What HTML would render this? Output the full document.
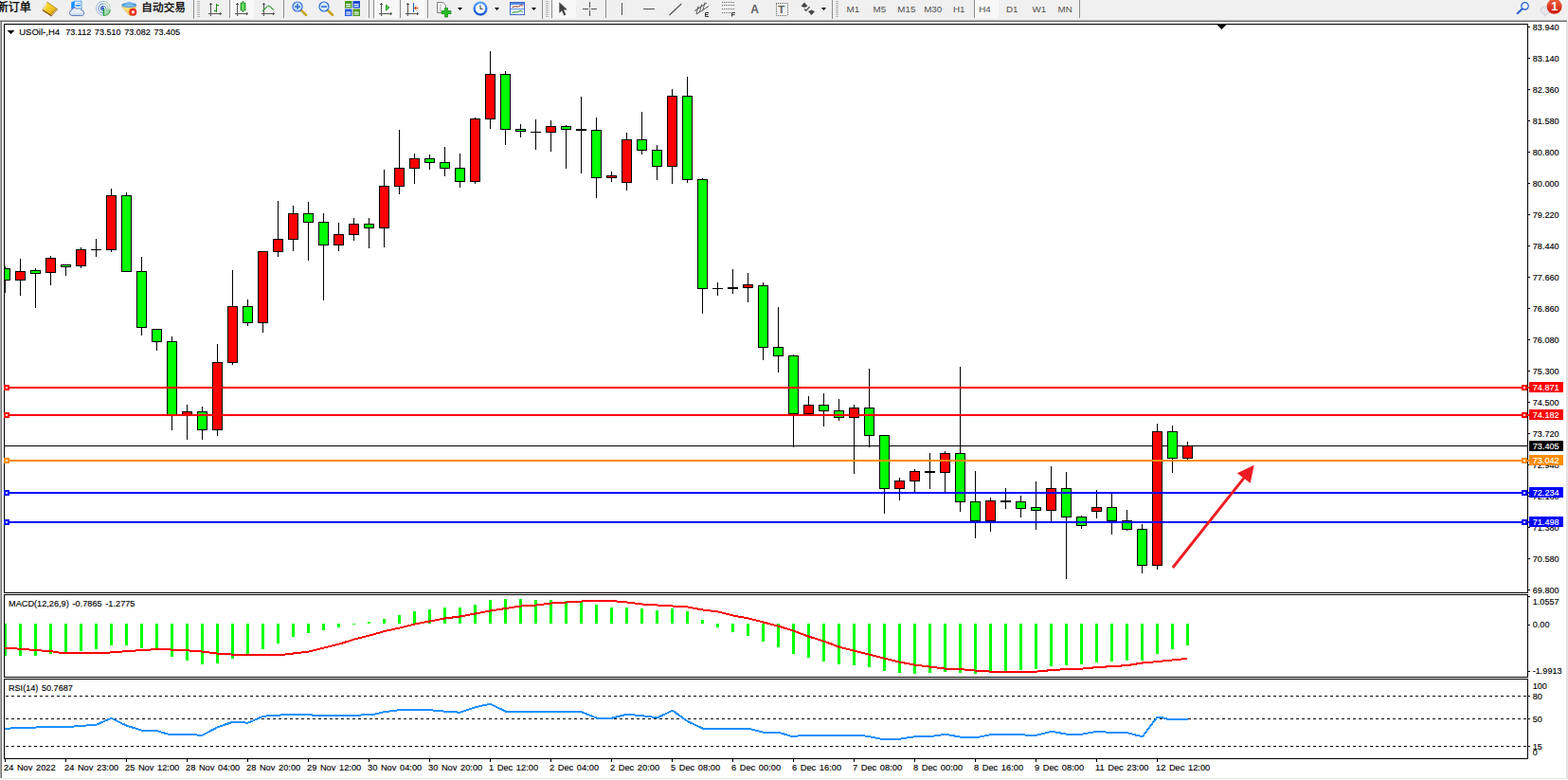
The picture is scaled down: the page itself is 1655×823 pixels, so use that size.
<!DOCTYPE html>
<html><head><meta charset="utf-8"><title>USOil H4</title>
<style>
html,body{margin:0;padding:0;background:#fff;}
body{width:1655px;height:823px;overflow:hidden;position:relative;font-family:"Liberation Sans",sans-serif;}
svg{position:absolute;left:0;top:0;}
svg.crisp{shape-rendering:crispEdges;}
.tb{font-family:"Liberation Sans",sans-serif;}
.ax{font-family:"Liberation Sans",sans-serif;font-size:9.7px;}
#tb{position:absolute;left:0;top:0;width:1655px;height:21px;background:#f0f0f0;}
#tbl1{position:absolute;left:0;top:21px;width:1654px;height:1px;background:#b4b4b4;}
#tbl2{position:absolute;left:0;top:22px;width:1654px;height:1px;background:#6a6a6a;}
</style></head><body>
<svg class="crisp" width="1655" height="823" viewBox="0 0 1655 823">
<rect x="0" y="21" width="1" height="800" fill="#a9a9a9"/>
<rect x="1" y="21" width="1" height="800" fill="#747474"/>
<rect x="1653" y="23" width="2" height="799" fill="#e3e3e3"/>
<rect x="2" y="821" width="1653" height="1" fill="#e6e6e6"/>
<rect x="4" y="25" width="1609" height="1" fill="#000"/>
<rect x="4" y="625" width="1609" height="1" fill="#000"/>
<rect x="4" y="25" width="1" height="601" fill="#000"/>
<rect x="1612" y="25" width="1" height="601" fill="#000"/>
<rect x="4" y="627" width="1609" height="1" fill="#000"/>
<rect x="4" y="714" width="1609" height="1" fill="#000"/>
<rect x="4" y="627" width="1" height="88" fill="#000"/>
<rect x="1612" y="627" width="1" height="88" fill="#000"/>
<rect x="4" y="716" width="1609" height="1" fill="#000"/>
<rect x="4" y="800" width="1609" height="1" fill="#000"/>
<rect x="4" y="716" width="1" height="85" fill="#000"/>
<rect x="1612" y="716" width="1" height="85" fill="#000"/>
<rect x="5" y="470" width="1607" height="1" fill="#000"/>
<rect x="5" y="281" width="1" height="28" fill="#000"/>
<rect x="5" y="283" width="6" height="13" fill="#000"/>
<rect x="5" y="284" width="5" height="11" fill="#00ff00"/>
<rect x="21" y="273" width="1" height="39" fill="#000"/>
<rect x="16" y="286" width="11" height="10" fill="#000"/>
<rect x="17" y="287" width="9" height="8" fill="#ff0000"/>
<rect x="37" y="283" width="1" height="42" fill="#000"/>
<rect x="32" y="285" width="11" height="4" fill="#000"/>
<rect x="33" y="286" width="9" height="2" fill="#00ff00"/>
<rect x="53" y="270" width="1" height="31" fill="#000"/>
<rect x="48" y="272" width="11" height="16" fill="#000"/>
<rect x="49" y="273" width="9" height="14" fill="#ff0000"/>
<rect x="69" y="279" width="1" height="12" fill="#000"/>
<rect x="64" y="279" width="11" height="3" fill="#000"/>
<rect x="65" y="280" width="9" height="1" fill="#00ff00"/>
<rect x="85" y="261" width="1" height="22" fill="#000"/>
<rect x="80" y="263" width="11" height="18" fill="#000"/>
<rect x="81" y="264" width="9" height="16" fill="#ff0000"/>
<rect x="101" y="252" width="1" height="19" fill="#000"/>
<rect x="96" y="263" width="11" height="1" fill="#000"/>
<rect x="117" y="199" width="1" height="67" fill="#000"/>
<rect x="112" y="206" width="11" height="58" fill="#000"/>
<rect x="113" y="207" width="9" height="56" fill="#ff0000"/>
<rect x="133" y="203" width="1" height="84" fill="#000"/>
<rect x="128" y="206" width="11" height="81" fill="#000"/>
<rect x="129" y="207" width="9" height="79" fill="#00ff00"/>
<rect x="149" y="271" width="1" height="83" fill="#000"/>
<rect x="144" y="286" width="11" height="60" fill="#000"/>
<rect x="145" y="287" width="9" height="58" fill="#00ff00"/>
<rect x="165" y="347" width="1" height="23" fill="#000"/>
<rect x="160" y="347" width="11" height="14" fill="#000"/>
<rect x="161" y="348" width="9" height="12" fill="#00ff00"/>
<rect x="181" y="355" width="1" height="99" fill="#000"/>
<rect x="176" y="360" width="11" height="79" fill="#000"/>
<rect x="177" y="361" width="9" height="77" fill="#00ff00"/>
<rect x="197" y="427" width="1" height="37" fill="#000"/>
<rect x="192" y="434" width="11" height="5" fill="#000"/>
<rect x="193" y="435" width="9" height="3" fill="#ff0000"/>
<rect x="213" y="429" width="1" height="35" fill="#000"/>
<rect x="208" y="434" width="11" height="20" fill="#000"/>
<rect x="209" y="435" width="9" height="18" fill="#00ff00"/>
<rect x="229" y="363" width="1" height="97" fill="#000"/>
<rect x="224" y="382" width="11" height="72" fill="#000"/>
<rect x="225" y="383" width="9" height="70" fill="#ff0000"/>
<rect x="245" y="285" width="1" height="100" fill="#000"/>
<rect x="240" y="323" width="11" height="60" fill="#000"/>
<rect x="241" y="324" width="9" height="58" fill="#ff0000"/>
<rect x="261" y="316" width="1" height="28" fill="#000"/>
<rect x="256" y="323" width="11" height="18" fill="#000"/>
<rect x="257" y="324" width="9" height="16" fill="#00ff00"/>
<rect x="277" y="265" width="1" height="86" fill="#000"/>
<rect x="272" y="265" width="11" height="76" fill="#000"/>
<rect x="273" y="266" width="9" height="74" fill="#ff0000"/>
<rect x="293" y="212" width="1" height="59" fill="#000"/>
<rect x="288" y="252" width="11" height="14" fill="#000"/>
<rect x="289" y="253" width="9" height="12" fill="#ff0000"/>
<rect x="309" y="217" width="1" height="48" fill="#000"/>
<rect x="304" y="225" width="11" height="28" fill="#000"/>
<rect x="305" y="226" width="9" height="26" fill="#ff0000"/>
<rect x="325" y="213" width="1" height="62" fill="#000"/>
<rect x="320" y="225" width="11" height="10" fill="#000"/>
<rect x="321" y="226" width="9" height="8" fill="#00ff00"/>
<rect x="341" y="225" width="1" height="92" fill="#000"/>
<rect x="336" y="234" width="11" height="25" fill="#000"/>
<rect x="337" y="235" width="9" height="23" fill="#00ff00"/>
<rect x="357" y="235" width="1" height="30" fill="#000"/>
<rect x="352" y="247" width="11" height="12" fill="#000"/>
<rect x="353" y="248" width="9" height="10" fill="#ff0000"/>
<rect x="373" y="230" width="1" height="24" fill="#000"/>
<rect x="368" y="236" width="11" height="12" fill="#000"/>
<rect x="369" y="237" width="9" height="10" fill="#ff0000"/>
<rect x="389" y="230" width="1" height="32" fill="#000"/>
<rect x="384" y="236" width="11" height="5" fill="#000"/>
<rect x="385" y="237" width="9" height="3" fill="#00ff00"/>
<rect x="405" y="179" width="1" height="82" fill="#000"/>
<rect x="400" y="196" width="11" height="45" fill="#000"/>
<rect x="401" y="197" width="9" height="43" fill="#ff0000"/>
<rect x="421" y="137" width="1" height="68" fill="#000"/>
<rect x="416" y="177" width="11" height="20" fill="#000"/>
<rect x="417" y="178" width="9" height="18" fill="#ff0000"/>
<rect x="437" y="162" width="1" height="32" fill="#000"/>
<rect x="432" y="167" width="11" height="11" fill="#000"/>
<rect x="433" y="168" width="9" height="9" fill="#ff0000"/>
<rect x="453" y="163" width="1" height="16" fill="#000"/>
<rect x="448" y="167" width="11" height="5" fill="#000"/>
<rect x="449" y="168" width="9" height="3" fill="#00ff00"/>
<rect x="469" y="155" width="1" height="31" fill="#000"/>
<rect x="464" y="171" width="11" height="7" fill="#000"/>
<rect x="465" y="172" width="9" height="5" fill="#00ff00"/>
<rect x="485" y="162" width="1" height="36" fill="#000"/>
<rect x="480" y="177" width="11" height="15" fill="#000"/>
<rect x="481" y="178" width="9" height="13" fill="#00ff00"/>
<rect x="501" y="124" width="1" height="70" fill="#000"/>
<rect x="496" y="125" width="11" height="67" fill="#000"/>
<rect x="497" y="126" width="9" height="65" fill="#ff0000"/>
<rect x="517" y="54" width="1" height="82" fill="#000"/>
<rect x="512" y="78" width="11" height="48" fill="#000"/>
<rect x="513" y="79" width="9" height="46" fill="#ff0000"/>
<rect x="533" y="75" width="1" height="78" fill="#000"/>
<rect x="528" y="78" width="11" height="59" fill="#000"/>
<rect x="529" y="79" width="9" height="57" fill="#00ff00"/>
<rect x="549" y="131" width="1" height="14" fill="#000"/>
<rect x="544" y="136" width="11" height="3" fill="#000"/>
<rect x="545" y="137" width="9" height="1" fill="#00ff00"/>
<rect x="565" y="126" width="1" height="32" fill="#000"/>
<rect x="560" y="139" width="11" height="1" fill="#000"/>
<rect x="581" y="127" width="1" height="33" fill="#000"/>
<rect x="576" y="133" width="11" height="7" fill="#000"/>
<rect x="577" y="134" width="9" height="5" fill="#ff0000"/>
<rect x="597" y="132" width="1" height="46" fill="#000"/>
<rect x="592" y="133" width="11" height="4" fill="#000"/>
<rect x="593" y="134" width="9" height="2" fill="#00ff00"/>
<rect x="613" y="102" width="1" height="81" fill="#000"/>
<rect x="608" y="136" width="11" height="2" fill="#000"/>
<rect x="629" y="124" width="1" height="85" fill="#000"/>
<rect x="624" y="137" width="11" height="51" fill="#000"/>
<rect x="625" y="138" width="9" height="49" fill="#00ff00"/>
<rect x="645" y="181" width="1" height="11" fill="#000"/>
<rect x="640" y="185" width="11" height="3" fill="#000"/>
<rect x="641" y="186" width="9" height="1" fill="#ff0000"/>
<rect x="661" y="140" width="1" height="61" fill="#000"/>
<rect x="656" y="147" width="11" height="46" fill="#000"/>
<rect x="657" y="148" width="9" height="44" fill="#ff0000"/>
<rect x="677" y="118" width="1" height="45" fill="#000"/>
<rect x="672" y="147" width="11" height="12" fill="#000"/>
<rect x="673" y="148" width="9" height="10" fill="#00ff00"/>
<rect x="693" y="153" width="1" height="37" fill="#000"/>
<rect x="688" y="158" width="11" height="18" fill="#000"/>
<rect x="689" y="159" width="9" height="16" fill="#00ff00"/>
<rect x="709" y="94" width="1" height="100" fill="#000"/>
<rect x="704" y="101" width="11" height="75" fill="#000"/>
<rect x="705" y="102" width="9" height="73" fill="#ff0000"/>
<rect x="725" y="81" width="1" height="112" fill="#000"/>
<rect x="720" y="101" width="11" height="89" fill="#000"/>
<rect x="721" y="102" width="9" height="87" fill="#00ff00"/>
<rect x="741" y="188" width="1" height="143" fill="#000"/>
<rect x="736" y="189" width="11" height="116" fill="#000"/>
<rect x="737" y="190" width="9" height="114" fill="#00ff00"/>
<rect x="757" y="298" width="1" height="14" fill="#000"/>
<rect x="752" y="304" width="11" height="1" fill="#000"/>
<rect x="773" y="284" width="1" height="26" fill="#000"/>
<rect x="768" y="303" width="11" height="2" fill="#000"/>
<rect x="789" y="288" width="1" height="31" fill="#000"/>
<rect x="784" y="300" width="11" height="4" fill="#000"/>
<rect x="785" y="301" width="9" height="2" fill="#ff0000"/>
<rect x="805" y="298" width="1" height="82" fill="#000"/>
<rect x="800" y="301" width="11" height="66" fill="#000"/>
<rect x="801" y="302" width="9" height="64" fill="#00ff00"/>
<rect x="821" y="324" width="1" height="69" fill="#000"/>
<rect x="816" y="366" width="11" height="10" fill="#000"/>
<rect x="817" y="367" width="9" height="8" fill="#00ff00"/>
<rect x="837" y="374" width="1" height="98" fill="#000"/>
<rect x="832" y="375" width="11" height="62" fill="#000"/>
<rect x="833" y="376" width="9" height="60" fill="#00ff00"/>
<rect x="853" y="418" width="1" height="19" fill="#000"/>
<rect x="848" y="427" width="11" height="10" fill="#000"/>
<rect x="849" y="428" width="9" height="8" fill="#ff0000"/>
<rect x="869" y="415" width="1" height="35" fill="#000"/>
<rect x="864" y="427" width="11" height="7" fill="#000"/>
<rect x="865" y="428" width="9" height="5" fill="#00ff00"/>
<rect x="885" y="421" width="1" height="23" fill="#000"/>
<rect x="880" y="433" width="11" height="8" fill="#000"/>
<rect x="881" y="434" width="9" height="6" fill="#00ff00"/>
<rect x="901" y="427" width="1" height="73" fill="#000"/>
<rect x="896" y="430" width="11" height="11" fill="#000"/>
<rect x="897" y="431" width="9" height="9" fill="#ff0000"/>
<rect x="917" y="389" width="1" height="83" fill="#000"/>
<rect x="912" y="430" width="11" height="30" fill="#000"/>
<rect x="913" y="431" width="9" height="28" fill="#00ff00"/>
<rect x="933" y="459" width="1" height="83" fill="#000"/>
<rect x="928" y="459" width="11" height="57" fill="#000"/>
<rect x="929" y="460" width="9" height="55" fill="#00ff00"/>
<rect x="949" y="504" width="1" height="24" fill="#000"/>
<rect x="944" y="507" width="11" height="9" fill="#000"/>
<rect x="945" y="508" width="9" height="7" fill="#ff0000"/>
<rect x="965" y="495" width="1" height="25" fill="#000"/>
<rect x="960" y="497" width="11" height="11" fill="#000"/>
<rect x="961" y="498" width="9" height="9" fill="#ff0000"/>
<rect x="981" y="478" width="1" height="38" fill="#000"/>
<rect x="976" y="497" width="11" height="2" fill="#000"/>
<rect x="997" y="476" width="1" height="43" fill="#000"/>
<rect x="992" y="478" width="11" height="21" fill="#000"/>
<rect x="993" y="479" width="9" height="19" fill="#ff0000"/>
<rect x="1013" y="387" width="1" height="153" fill="#000"/>
<rect x="1008" y="478" width="11" height="52" fill="#000"/>
<rect x="1009" y="479" width="9" height="50" fill="#00ff00"/>
<rect x="1029" y="497" width="1" height="71" fill="#000"/>
<rect x="1024" y="529" width="11" height="21" fill="#000"/>
<rect x="1025" y="530" width="9" height="19" fill="#00ff00"/>
<rect x="1045" y="525" width="1" height="36" fill="#000"/>
<rect x="1040" y="528" width="11" height="22" fill="#000"/>
<rect x="1041" y="529" width="9" height="20" fill="#ff0000"/>
<rect x="1061" y="515" width="1" height="22" fill="#000"/>
<rect x="1056" y="528" width="11" height="2" fill="#000"/>
<rect x="1077" y="523" width="1" height="23" fill="#000"/>
<rect x="1072" y="529" width="11" height="8" fill="#000"/>
<rect x="1073" y="530" width="9" height="6" fill="#00ff00"/>
<rect x="1093" y="508" width="1" height="51" fill="#000"/>
<rect x="1088" y="535" width="11" height="4" fill="#000"/>
<rect x="1089" y="536" width="9" height="2" fill="#00ff00"/>
<rect x="1109" y="492" width="1" height="59" fill="#000"/>
<rect x="1104" y="515" width="11" height="24" fill="#000"/>
<rect x="1105" y="516" width="9" height="22" fill="#ff0000"/>
<rect x="1125" y="498" width="1" height="113" fill="#000"/>
<rect x="1120" y="515" width="11" height="31" fill="#000"/>
<rect x="1121" y="516" width="9" height="29" fill="#00ff00"/>
<rect x="1141" y="544" width="1" height="14" fill="#000"/>
<rect x="1136" y="545" width="11" height="10" fill="#000"/>
<rect x="1137" y="546" width="9" height="8" fill="#00ff00"/>
<rect x="1157" y="517" width="1" height="30" fill="#000"/>
<rect x="1152" y="535" width="11" height="5" fill="#000"/>
<rect x="1153" y="536" width="9" height="3" fill="#ff0000"/>
<rect x="1173" y="521" width="1" height="43" fill="#000"/>
<rect x="1168" y="535" width="11" height="15" fill="#000"/>
<rect x="1169" y="536" width="9" height="13" fill="#00ff00"/>
<rect x="1189" y="538" width="1" height="22" fill="#000"/>
<rect x="1184" y="549" width="11" height="10" fill="#000"/>
<rect x="1185" y="550" width="9" height="8" fill="#00ff00"/>
<rect x="1205" y="553" width="1" height="52" fill="#000"/>
<rect x="1200" y="558" width="11" height="39" fill="#000"/>
<rect x="1201" y="559" width="9" height="37" fill="#00ff00"/>
<rect x="1221" y="447" width="1" height="154" fill="#000"/>
<rect x="1216" y="455" width="11" height="142" fill="#000"/>
<rect x="1217" y="456" width="9" height="140" fill="#ff0000"/>
<rect x="1237" y="449" width="1" height="50" fill="#000"/>
<rect x="1232" y="455" width="11" height="29" fill="#000"/>
<rect x="1233" y="456" width="9" height="27" fill="#00ff00"/>
<rect x="1253" y="466" width="1" height="19" fill="#000"/>
<rect x="1248" y="470" width="11" height="14" fill="#000"/>
<rect x="1249" y="471" width="9" height="12" fill="#ff0000"/>
<rect x="1613" y="28" width="2" height="1" fill="#000"/>
<text transform="translate(1617.8 32) scale(0.934 1)" class="ax" fill="#000" stroke="#000" stroke-width=".14">83.940</text>
<rect x="1613" y="61" width="2" height="1" fill="#000"/>
<text transform="translate(1617.8 65) scale(0.934 1)" class="ax" fill="#000" stroke="#000" stroke-width=".14">83.140</text>
<rect x="1613" y="94" width="2" height="1" fill="#000"/>
<text transform="translate(1617.8 98) scale(0.934 1)" class="ax" fill="#000" stroke="#000" stroke-width=".14">82.360</text>
<rect x="1613" y="127" width="2" height="1" fill="#000"/>
<text transform="translate(1617.8 131) scale(0.934 1)" class="ax" fill="#000" stroke="#000" stroke-width=".14">81.580</text>
<rect x="1613" y="160" width="2" height="1" fill="#000"/>
<text transform="translate(1617.8 164) scale(0.934 1)" class="ax" fill="#000" stroke="#000" stroke-width=".14">80.800</text>
<rect x="1613" y="193" width="2" height="1" fill="#000"/>
<text transform="translate(1617.8 197) scale(0.934 1)" class="ax" fill="#000" stroke="#000" stroke-width=".14">80.000</text>
<rect x="1613" y="226" width="2" height="1" fill="#000"/>
<text transform="translate(1617.8 230) scale(0.934 1)" class="ax" fill="#000" stroke="#000" stroke-width=".14">79.220</text>
<rect x="1613" y="259" width="2" height="1" fill="#000"/>
<text transform="translate(1617.8 263) scale(0.934 1)" class="ax" fill="#000" stroke="#000" stroke-width=".14">78.440</text>
<rect x="1613" y="292" width="2" height="1" fill="#000"/>
<text transform="translate(1617.8 296) scale(0.934 1)" class="ax" fill="#000" stroke="#000" stroke-width=".14">77.660</text>
<rect x="1613" y="325" width="2" height="1" fill="#000"/>
<text transform="translate(1617.8 329) scale(0.934 1)" class="ax" fill="#000" stroke="#000" stroke-width=".14">76.860</text>
<rect x="1613" y="358" width="2" height="1" fill="#000"/>
<text transform="translate(1617.8 362) scale(0.934 1)" class="ax" fill="#000" stroke="#000" stroke-width=".14">76.080</text>
<rect x="1613" y="391" width="2" height="1" fill="#000"/>
<text transform="translate(1617.8 395) scale(0.934 1)" class="ax" fill="#000" stroke="#000" stroke-width=".14">75.300</text>
<rect x="1613" y="424" width="2" height="1" fill="#000"/>
<text transform="translate(1617.8 428) scale(0.934 1)" class="ax" fill="#000" stroke="#000" stroke-width=".14">74.500</text>
<rect x="1613" y="457" width="2" height="1" fill="#000"/>
<text transform="translate(1617.8 461) scale(0.934 1)" class="ax" fill="#000" stroke="#000" stroke-width=".14">73.720</text>
<rect x="1613" y="490" width="2" height="1" fill="#000"/>
<text transform="translate(1617.8 494) scale(0.934 1)" class="ax" fill="#000" stroke="#000" stroke-width=".14">72.940</text>
<rect x="1613" y="523" width="2" height="1" fill="#000"/>
<text transform="translate(1617.8 527) scale(0.934 1)" class="ax" fill="#000" stroke="#000" stroke-width=".14">72.160</text>
<rect x="1613" y="556" width="2" height="1" fill="#000"/>
<text transform="translate(1617.8 560) scale(0.934 1)" class="ax" fill="#000" stroke="#000" stroke-width=".14">71.380</text>
<rect x="1613" y="589" width="2" height="1" fill="#000"/>
<text transform="translate(1617.8 593) scale(0.934 1)" class="ax" fill="#000" stroke="#000" stroke-width=".14">70.580</text>
<rect x="1613" y="622" width="2" height="1" fill="#000"/>
<text transform="translate(1617.8 626) scale(0.934 1)" class="ax" fill="#000" stroke="#000" stroke-width=".14">69.800</text>
<rect x="5" y="408" width="1609" height="2" fill="#ff0000"/>
<rect x="4" y="406" width="6" height="6" fill="#ff0000"/>
<rect x="6" y="408" width="2" height="2" fill="#fff"/>
<rect x="1606" y="406" width="6" height="6" fill="#ff0000"/>
<rect x="1608" y="408" width="2" height="2" fill="#fff"/>
<rect x="1614" y="403" width="36" height="11" fill="#ff0000"/>
<text transform="translate(1617.8 412) scale(0.934 1)" class="ax" fill="#fff" stroke="#fff" stroke-width=".14">74.871</text>
<rect x="5" y="437" width="1609" height="2" fill="#ff0000"/>
<rect x="4" y="435" width="6" height="6" fill="#ff0000"/>
<rect x="6" y="437" width="2" height="2" fill="#fff"/>
<rect x="1606" y="435" width="6" height="6" fill="#ff0000"/>
<rect x="1608" y="437" width="2" height="2" fill="#fff"/>
<rect x="1614" y="432" width="36" height="11" fill="#ff0000"/>
<text transform="translate(1617.8 441) scale(0.934 1)" class="ax" fill="#fff" stroke="#fff" stroke-width=".14">74.182</text>
<rect x="1614" y="465" width="36" height="11" fill="#000"/>
<text transform="translate(1617.8 474) scale(0.934 1)" class="ax" fill="#fff" stroke="#fff" stroke-width=".14">73.405</text>
<rect x="5" y="485" width="1609" height="2" fill="#ff8c00"/>
<rect x="4" y="483" width="6" height="6" fill="#ff8c00"/>
<rect x="6" y="485" width="2" height="2" fill="#fff"/>
<rect x="1606" y="483" width="6" height="6" fill="#ff8c00"/>
<rect x="1608" y="485" width="2" height="2" fill="#fff"/>
<rect x="1614" y="480" width="36" height="11" fill="#ff8c00"/>
<text transform="translate(1617.8 489) scale(0.934 1)" class="ax" fill="#fff" stroke="#fff" stroke-width=".14">73.042</text>
<rect x="5" y="519" width="1609" height="2" fill="#0000ff"/>
<rect x="4" y="517" width="6" height="6" fill="#0000ff"/>
<rect x="6" y="519" width="2" height="2" fill="#fff"/>
<rect x="1606" y="517" width="6" height="6" fill="#0000ff"/>
<rect x="1608" y="519" width="2" height="2" fill="#fff"/>
<rect x="1614" y="514" width="36" height="11" fill="#0000ff"/>
<text transform="translate(1617.8 523) scale(0.934 1)" class="ax" fill="#fff" stroke="#fff" stroke-width=".14">72.234</text>
<rect x="5" y="550" width="1609" height="2" fill="#0000ff"/>
<rect x="4" y="548" width="6" height="6" fill="#0000ff"/>
<rect x="6" y="550" width="2" height="2" fill="#fff"/>
<rect x="1606" y="548" width="6" height="6" fill="#0000ff"/>
<rect x="1608" y="550" width="2" height="2" fill="#fff"/>
<rect x="1614" y="545" width="36" height="11" fill="#0000ff"/>
<text transform="translate(1617.8 554) scale(0.934 1)" class="ax" fill="#fff" stroke="#fff" stroke-width=".14">71.498</text>
<rect x="5" y="658" width="2" height="34" fill="#00ff00"/>
<rect x="20" y="658" width="3" height="34" fill="#00ff00"/>
<rect x="36" y="658" width="3" height="34" fill="#00ff00"/>
<rect x="52" y="658" width="3" height="32" fill="#00ff00"/>
<rect x="68" y="658" width="3" height="30" fill="#00ff00"/>
<rect x="84" y="658" width="3" height="29" fill="#00ff00"/>
<rect x="100" y="658" width="3" height="27" fill="#00ff00"/>
<rect x="116" y="658" width="3" height="23" fill="#00ff00"/>
<rect x="132" y="658" width="3" height="23" fill="#00ff00"/>
<rect x="148" y="658" width="3" height="26" fill="#00ff00"/>
<rect x="164" y="658" width="3" height="28" fill="#00ff00"/>
<rect x="180" y="658" width="3" height="35" fill="#00ff00"/>
<rect x="196" y="658" width="3" height="39" fill="#00ff00"/>
<rect x="212" y="658" width="3" height="43" fill="#00ff00"/>
<rect x="228" y="658" width="3" height="42" fill="#00ff00"/>
<rect x="244" y="658" width="3" height="37" fill="#00ff00"/>
<rect x="260" y="658" width="3" height="32" fill="#00ff00"/>
<rect x="276" y="658" width="3" height="27" fill="#00ff00"/>
<rect x="292" y="658" width="3" height="21" fill="#00ff00"/>
<rect x="308" y="658" width="3" height="14" fill="#00ff00"/>
<rect x="324" y="658" width="3" height="10" fill="#00ff00"/>
<rect x="340" y="658" width="3" height="7" fill="#00ff00"/>
<rect x="356" y="658" width="3" height="4" fill="#00ff00"/>
<rect x="372" y="658" width="3" height="1" fill="#00ff00"/>
<rect x="756" y="658" width="3" height="4" fill="#00ff00"/>
<rect x="772" y="658" width="3" height="9" fill="#00ff00"/>
<rect x="788" y="658" width="3" height="13" fill="#00ff00"/>
<rect x="804" y="658" width="3" height="19" fill="#00ff00"/>
<rect x="820" y="658" width="3" height="25" fill="#00ff00"/>
<rect x="836" y="658" width="3" height="32" fill="#00ff00"/>
<rect x="852" y="658" width="3" height="36" fill="#00ff00"/>
<rect x="868" y="658" width="3" height="40" fill="#00ff00"/>
<rect x="884" y="658" width="3" height="43" fill="#00ff00"/>
<rect x="900" y="658" width="3" height="44" fill="#00ff00"/>
<rect x="916" y="658" width="3" height="46" fill="#00ff00"/>
<rect x="932" y="658" width="3" height="50" fill="#00ff00"/>
<rect x="948" y="658" width="3" height="52" fill="#00ff00"/>
<rect x="964" y="658" width="3" height="53" fill="#00ff00"/>
<rect x="980" y="658" width="3" height="52" fill="#00ff00"/>
<rect x="996" y="658" width="3" height="51" fill="#00ff00"/>
<rect x="1012" y="658" width="3" height="52" fill="#00ff00"/>
<rect x="1028" y="658" width="3" height="53" fill="#00ff00"/>
<rect x="1044" y="658" width="3" height="52" fill="#00ff00"/>
<rect x="1060" y="658" width="3" height="50" fill="#00ff00"/>
<rect x="1076" y="658" width="3" height="49" fill="#00ff00"/>
<rect x="1092" y="658" width="3" height="48" fill="#00ff00"/>
<rect x="1108" y="658" width="3" height="45" fill="#00ff00"/>
<rect x="1124" y="658" width="3" height="44" fill="#00ff00"/>
<rect x="1140" y="658" width="3" height="43" fill="#00ff00"/>
<rect x="1156" y="658" width="3" height="41" fill="#00ff00"/>
<rect x="1172" y="658" width="3" height="40" fill="#00ff00"/>
<rect x="1188" y="658" width="3" height="39" fill="#00ff00"/>
<rect x="1204" y="658" width="3" height="39" fill="#00ff00"/>
<rect x="1220" y="658" width="3" height="32" fill="#00ff00"/>
<rect x="1236" y="658" width="3" height="27" fill="#00ff00"/>
<rect x="1252" y="658" width="3" height="23" fill="#00ff00"/>
<rect x="388" y="656" width="3" height="2" fill="#00ff00"/>
<rect x="404" y="653" width="3" height="5" fill="#00ff00"/>
<rect x="420" y="649" width="3" height="9" fill="#00ff00"/>
<rect x="436" y="645" width="3" height="13" fill="#00ff00"/>
<rect x="452" y="643" width="3" height="15" fill="#00ff00"/>
<rect x="468" y="641" width="3" height="17" fill="#00ff00"/>
<rect x="484" y="641" width="3" height="17" fill="#00ff00"/>
<rect x="500" y="638" width="3" height="20" fill="#00ff00"/>
<rect x="516" y="633" width="3" height="25" fill="#00ff00"/>
<rect x="532" y="632" width="3" height="26" fill="#00ff00"/>
<rect x="548" y="632" width="3" height="26" fill="#00ff00"/>
<rect x="564" y="633" width="3" height="25" fill="#00ff00"/>
<rect x="580" y="633" width="3" height="25" fill="#00ff00"/>
<rect x="596" y="634" width="3" height="24" fill="#00ff00"/>
<rect x="612" y="635" width="3" height="23" fill="#00ff00"/>
<rect x="628" y="638" width="3" height="20" fill="#00ff00"/>
<rect x="644" y="641" width="3" height="17" fill="#00ff00"/>
<rect x="660" y="641" width="3" height="17" fill="#00ff00"/>
<rect x="676" y="642" width="3" height="16" fill="#00ff00"/>
<rect x="692" y="644" width="3" height="14" fill="#00ff00"/>
<rect x="708" y="642" width="3" height="16" fill="#00ff00"/>
<rect x="724" y="645" width="3" height="13" fill="#00ff00"/>
<rect x="740" y="654" width="3" height="4" fill="#00ff00"/>
<polyline points="5.0,684.1 21.5,684.6 37.5,686.1 53.6,687.1 62.6,688.6 115.1,688.6 133.7,687.1 149.7,686.1 170.2,684.8 181.7,685.6 197.7,686.3 213.8,687.6 229.8,689.6 245.8,690.6 300.4,690.6 325.4,687.6 341.9,683.6 357.9,679.6 374.0,674.6 390.0,670.6 405.5,666.1 421.5,662.6 437.5,658.6 453.6,655.5 469.6,652.5 485.6,650.5 501.6,647.5 517.6,644.5 533.7,642.0 549.7,639.5 565.7,638.5 581.7,636.5 597.7,635.5 613.8,634.5 629.8,634.0 645.8,634.0 661.8,635.5 677.8,637.5 693.9,638.5 709.9,639.5 725.9,640.5 741.9,643.5 757.9,645.5 774.0,649.5 790.0,652.5 805.5,656.5 821.5,660.6 837.5,665.6 853.6,671.6 869.6,676.6 885.6,682.6 901.6,686.6 917.6,690.6 933.7,694.6 949.7,698.6 965.7,701.6 981.7,703.6 997.7,705.6 1013.8,706.1 1029.8,707.6 1045.8,708.6 1061.8,709.1 1077.8,709.1 1093.9,708.6 1109.9,707.1 1125.9,706.1 1141.9,705.6 1157.9,704.1 1174.0,703.1 1190.0,702.1 1205.5,699.5 1221.4,698.1 1237.4,696.5 1253.3,694.8" fill="none" stroke="#ff0000" stroke-width="2"/>
<rect x="1613" y="629" width="2" height="1" fill="#000"/>
<text transform="translate(1617.8 638) scale(0.934 1)" class="ax" fill="#000" stroke="#000" stroke-width=".14">1.0557</text>
<text transform="translate(1617.8 662) scale(0.934 1)" class="ax" fill="#000" stroke="#000" stroke-width=".14">0.00</text>
<text transform="translate(1617.8 711) scale(0.934 1)" class="ax" fill="#000" stroke="#000" stroke-width=".14">-1.9913</text>
<rect x="1613" y="659" width="2" height="1" fill="#000"/>
<rect x="1613" y="708" width="2" height="1" fill="#000"/>
<line x1="6" y1="734.5" x2="1612" y2="734.5" stroke="#000" stroke-width="1" stroke-dasharray="3 3"/>
<rect x="1613" y="734" width="2" height="1" fill="#000"/>
<line x1="6" y1="758.5" x2="1612" y2="758.5" stroke="#000" stroke-width="1" stroke-dasharray="3 3"/>
<rect x="1613" y="758" width="2" height="1" fill="#000"/>
<line x1="6" y1="787.5" x2="1612" y2="787.5" stroke="#000" stroke-width="1" stroke-dasharray="3 3"/>
<rect x="1613" y="787" width="2" height="1" fill="#000"/>
<polyline points="5.0,768.7 21.5,768.2 45.1,767.2 75.1,766.7 101.6,764.7 117.6,757.7 133.7,765.7 149.7,770.7 165.7,771.2 177.7,774.7 197.7,775.2 213.8,775.7 229.8,767.2 245.8,761.7 261.8,762.7 277.8,755.7 293.9,754.7 302.9,753.7 325.4,753.7 332.9,755.2 363.0,755.2 374.0,754.7 393.0,754.2 405.5,751.2 421.5,749.2 453.6,749.2 469.6,750.7 485.6,751.7 501.6,746.2 517.6,742.7 533.7,750.7 549.7,751.2 613.8,751.2 629.8,757.7 645.8,757.7 661.8,753.7 677.8,755.2 693.9,757.2 709.9,749.7 725.9,761.2 741.9,768.7 757.9,768.7 790.0,768.7 805.5,772.7 821.5,772.7 835.0,776.7 853.6,776.2 869.6,775.7 907.6,775.7 917.6,777.2 930.2,779.7 949.7,779.7 965.7,777.2 985.2,776.7 997.7,774.7 1013.8,777.7 1032.8,777.7 1045.8,775.2 1077.8,774.7 1082.9,775.7 1093.9,775.7 1109.9,771.7 1125.9,774.7 1141.9,774.7 1155.4,772.2 1174.0,772.7 1190.0,773.2 1200.0,775.9 1206.0,777.0 1221.4,756.7 1226.1,757.0 1233.0,758.9 1253.9,758.9" fill="none" stroke="#1e90ff" stroke-width="2"/>
<text transform="translate(1617.8 727) scale(0.934 1)" class="ax" fill="#000" stroke="#000" stroke-width=".14">100</text>
<text transform="translate(1617.8 738) scale(0.934 1)" class="ax" fill="#000" stroke="#000" stroke-width=".14">80</text>
<text transform="translate(1617.8 762) scale(0.934 1)" class="ax" fill="#000" stroke="#000" stroke-width=".14">50</text>
<text transform="translate(1617.8 791) scale(0.934 1)" class="ax" fill="#000" stroke="#000" stroke-width=".14">15</text>
<text transform="translate(1617.8 797) scale(0.934 1)" class="ax" fill="#000" stroke="#000" stroke-width=".14">0</text>
<rect x="5" y="801" width="1" height="3" fill="#000"/>
<text transform="translate(4 813) scale(0.959 1)" class="ax" fill="#000" stroke="#000" stroke-width=".14" word-spacing="1">24 Nov 2022</text>
<rect x="69" y="801" width="1" height="3" fill="#000"/>
<text transform="translate(68 813) scale(0.959 1)" class="ax" fill="#000" stroke="#000" stroke-width=".14" word-spacing="1">24 Nov 23:00</text>
<rect x="133" y="801" width="1" height="3" fill="#000"/>
<text transform="translate(132 813) scale(0.959 1)" class="ax" fill="#000" stroke="#000" stroke-width=".14" word-spacing="1">25 Nov 12:00</text>
<rect x="197" y="801" width="1" height="3" fill="#000"/>
<text transform="translate(196 813) scale(0.959 1)" class="ax" fill="#000" stroke="#000" stroke-width=".14" word-spacing="1">28 Nov 04:00</text>
<rect x="261" y="801" width="1" height="3" fill="#000"/>
<text transform="translate(260 813) scale(0.959 1)" class="ax" fill="#000" stroke="#000" stroke-width=".14" word-spacing="1">28 Nov 20:00</text>
<rect x="325" y="801" width="1" height="3" fill="#000"/>
<text transform="translate(324 813) scale(0.959 1)" class="ax" fill="#000" stroke="#000" stroke-width=".14" word-spacing="1">29 Nov 12:00</text>
<rect x="389" y="801" width="1" height="3" fill="#000"/>
<text transform="translate(388 813) scale(0.959 1)" class="ax" fill="#000" stroke="#000" stroke-width=".14" word-spacing="1">30 Nov 04:00</text>
<rect x="453" y="801" width="1" height="3" fill="#000"/>
<text transform="translate(452 813) scale(0.959 1)" class="ax" fill="#000" stroke="#000" stroke-width=".14" word-spacing="1">30 Nov 20:00</text>
<rect x="517" y="801" width="1" height="3" fill="#000"/>
<text transform="translate(516 813) scale(0.959 1)" class="ax" fill="#000" stroke="#000" stroke-width=".14" word-spacing="1">1 Dec 12:00</text>
<rect x="581" y="801" width="1" height="3" fill="#000"/>
<text transform="translate(580 813) scale(0.959 1)" class="ax" fill="#000" stroke="#000" stroke-width=".14" word-spacing="1">2 Dec 04:00</text>
<rect x="645" y="801" width="1" height="3" fill="#000"/>
<text transform="translate(644 813) scale(0.959 1)" class="ax" fill="#000" stroke="#000" stroke-width=".14" word-spacing="1">2 Dec 20:00</text>
<rect x="709" y="801" width="1" height="3" fill="#000"/>
<text transform="translate(708 813) scale(0.959 1)" class="ax" fill="#000" stroke="#000" stroke-width=".14" word-spacing="1">5 Dec 08:00</text>
<rect x="773" y="801" width="1" height="3" fill="#000"/>
<text transform="translate(772 813) scale(0.959 1)" class="ax" fill="#000" stroke="#000" stroke-width=".14" word-spacing="1">6 Dec 00:00</text>
<rect x="837" y="801" width="1" height="3" fill="#000"/>
<text transform="translate(836 813) scale(0.959 1)" class="ax" fill="#000" stroke="#000" stroke-width=".14" word-spacing="1">6 Dec 16:00</text>
<rect x="901" y="801" width="1" height="3" fill="#000"/>
<text transform="translate(900 813) scale(0.959 1)" class="ax" fill="#000" stroke="#000" stroke-width=".14" word-spacing="1">7 Dec 08:00</text>
<rect x="965" y="801" width="1" height="3" fill="#000"/>
<text transform="translate(964 813) scale(0.959 1)" class="ax" fill="#000" stroke="#000" stroke-width=".14" word-spacing="1">8 Dec 00:00</text>
<rect x="1029" y="801" width="1" height="3" fill="#000"/>
<text transform="translate(1028 813) scale(0.959 1)" class="ax" fill="#000" stroke="#000" stroke-width=".14" word-spacing="1">8 Dec 16:00</text>
<rect x="1093" y="801" width="1" height="3" fill="#000"/>
<text transform="translate(1092 813) scale(0.959 1)" class="ax" fill="#000" stroke="#000" stroke-width=".14" word-spacing="1">9 Dec 08:00</text>
<rect x="1157" y="801" width="1" height="3" fill="#000"/>
<text transform="translate(1156 813) scale(0.959 1)" class="ax" fill="#000" stroke="#000" stroke-width=".14" word-spacing="1">11 Dec 23:00</text>
<rect x="1221" y="801" width="1" height="3" fill="#000"/>
<text transform="translate(1220 813) scale(0.959 1)" class="ax" fill="#000" stroke="#000" stroke-width=".14" word-spacing="1">12 Dec 12:00</text>
<text transform="translate(20.2 36.5) scale(0.985 1)" class="ax" fill="#000" stroke="#000" stroke-width=".14">USOil-,H4</text>
<text transform="translate(69.2 36.5) scale(0.934 1)" class="ax" fill="#000" stroke="#000" stroke-width=".14" word-spacing="1.2">73.112 73.510 73.082 73.405</text>
<path d="M8 32h7l-3.5 4z" fill="#000"/>
<text transform="translate(9 640) scale(0.948 1)" class="ax" fill="#000" stroke="#000" stroke-width=".14" word-spacing="1.2">MACD(12,26,9) -0.7865 -1.2775</text>
<text transform="translate(9 729) scale(0.938 1)" class="ax" fill="#000" stroke="#000" stroke-width=".14" word-spacing="1.2">RSI(14) 50.7687</text>
<path d="M1285 26h9l-4.5 5z" fill="#000"/>
</svg>
<svg class="aa" width="1655" height="823" viewBox="0 0 1655 823"><line x1="1237.8" y1="599" x2="1313" y2="504.3" stroke="#ed1c24" stroke-width="2.9"/><polygon points="1323.7,490.7 1305.8,499.3 1319.7,509.7" fill="#ed1c24"/></svg>
<div id="tb"></div><div id="tbl1"></div><div id="tbl2"></div>
<svg id="tbs" width="1655" height="21" viewBox="0 0 1655 21" style="position:absolute;left:0;top:0;overflow:hidden"><text x="-3.2" y="12.4" font-size="12" fill="#000" stroke="#000" stroke-width=".3" style="font-family:'Liberation Sans','Noto Sans CJK SC',sans-serif">新订单</text>
<defs><linearGradient id="gy" x1="0" y1="0" x2="1" y2="1"><stop offset="0" stop-color="#ffe84a"/><stop offset=".55" stop-color="#f2c420"/><stop offset="1" stop-color="#c8900c"/></linearGradient><linearGradient id="gy2" x1="0" y1="0" x2="1" y2="1"><stop offset="0" stop-color="#fff0a0"/><stop offset="1" stop-color="#e8b020"/></linearGradient><linearGradient id="gr" x1="0" y1="0" x2="0" y2="1"><stop offset="0" stop-color="#f06040"/><stop offset="1" stop-color="#cc1a0c"/></linearGradient><linearGradient id="gb" x1="0" y1="0" x2="0" y2="1"><stop offset="0" stop-color="#5aa8ff"/><stop offset="1" stop-color="#0a4ccc"/></linearGradient><linearGradient id="gg" x1="0" y1="0" x2="1" y2="0"><stop offset="0" stop-color="#18a818"/><stop offset=".5" stop-color="#7aea7a"/><stop offset="1" stop-color="#18a818"/></linearGradient></defs>
<path d="M50 2.3L60 9.2 53.6 16 45 10.6z" fill="url(#gy)" stroke="#a8740e" stroke-width=".7"/><path d="M53.6 16L60 9.2l.7.9-6.5 6.9z" fill="#f4e6b8" stroke="#8a5a0a" stroke-width=".6"/><path d="M45 10.7l8.7 5.6.6.7" fill="none" stroke="#8a5208" stroke-width="1.2"/><path d="M49.5 3.6L46.2 10" stroke="#fff3a8" stroke-width="1.1" fill="none"/>
<path d="M75.2 2.2l3.3-1v9.5l-3.3-1.2z" fill="#1e8fff"/><rect x="78.5" y="1.2" width="7.5" height="9.5" fill="#eaf5ff" stroke="#2a8af0" stroke-width=".8"/><rect x="79.8" y="5" width="5" height="1.6" fill="#2a8af0"/><rect x="81.5" y="3" width="3.3" height="1" fill="#7ab8f8"/><path d="M76 16.5a2.9 2.9 0 0 1-.3-5.7 3.3 3.3 0 0 1 5.8-1.4 3.2 3.2 0 0 1 4.9 1.8 2.7 2.7 0 0 1 .3 5.3z" fill="#e8eef8" stroke="#4a6eb0" stroke-width=".9"/><path d="M75 14.8h12.5" stroke="#c4d0e6" stroke-width="1.4"/>
<circle cx="109" cy="8.8" r="7.6" fill="#f2f6f4"/><g fill="none" stroke-width="1"><path d="M109 1.4a7.4 7.4 0 0 0 0 14.8" stroke="#9cb4e8"/><path d="M109 3.8a5 5 0 0 0 0 10" stroke="#5c84dc"/><path d="M109 6.2a2.6 2.6 0 0 0 0 5.2" stroke="#2c58cc"/><path d="M109 1.4a7.4 7.4 0 0 1 7.4 7.4" stroke="#a8c8b8"/><path d="M109 3.8a5 5 0 0 1 5 5" stroke="#98c0a8"/><path d="M109 6.2a2.6 2.6 0 0 1 2.6 2.6" stroke="#6c98c8"/></g><path d="M109.3 9v7.4a7.6 7.6 0 0 0 7.3-7.4z" fill="#8cc89c" opacity=".75"/><path d="M109.3 16.5a7.6 7.6 0 0 0 7.2-6" fill="none" stroke="#2ca03c" stroke-width="1.1"/><circle cx="108.6" cy="8.7" r="1.5" fill="#2450c8"/><rect x="108.8" y="9.2" width="1.2" height="7.4" fill="#18a030"/>
<path d="M128.6 7.4h15l-6.4 9.3z" fill="url(#gy2)" stroke="#d8a820" stroke-width=".5"/><ellipse cx="136.3" cy="5.4" rx="8" ry="2.7" fill="#4e9ad8"/><path d="M132.3 4.6a4.2 3.6 0 0 1 8.2 0z" fill="#7cc0ec"/><ellipse cx="136.3" cy="6" rx="6" ry="1.2" fill="#9cd0f0" opacity=".7"/><circle cx="140.3" cy="12.7" r="4" fill="#dc2410"/><circle cx="140.3" cy="12.7" r="3.3" fill="#e83820"/><rect x="139" y="11.4" width="2.7" height="2.7" fill="#fff"/>
<text x="149.3" y="12.4" font-size="11.7" fill="#000" stroke="#000" stroke-width=".3" style="font-family:'Liberation Sans','Noto Sans CJK SC',sans-serif">自动交易</text>
<rect x="204" y="0" width="1" height="20" fill="#8c8c8c" shape-rendering="crispEdges"/>
<rect x="208" y="1" width="3" height="1" fill="#b2b2b2" shape-rendering="crispEdges"/>
<rect x="208" y="3" width="3" height="1" fill="#b2b2b2" shape-rendering="crispEdges"/>
<rect x="208" y="5" width="3" height="1" fill="#b2b2b2" shape-rendering="crispEdges"/>
<rect x="208" y="7" width="3" height="1" fill="#b2b2b2" shape-rendering="crispEdges"/>
<rect x="208" y="9" width="3" height="1" fill="#b2b2b2" shape-rendering="crispEdges"/>
<rect x="208" y="11" width="3" height="1" fill="#b2b2b2" shape-rendering="crispEdges"/>
<rect x="208" y="13" width="3" height="1" fill="#b2b2b2" shape-rendering="crispEdges"/>
<rect x="208" y="15" width="3" height="1" fill="#b2b2b2" shape-rendering="crispEdges"/>
<rect x="208" y="17" width="3" height="1" fill="#b2b2b2" shape-rendering="crispEdges"/>
<g fill="#555" shape-rendering="crispEdges"><rect x="222" y="3" width="1" height="14"/><rect x="221" y="4" width="3" height="1"/><rect x="220" y="14" width="14" height="1"/><rect x="232" y="13" width="1" height="3"/></g>
<g fill="#1a8a1a" shape-rendering="crispEdges"><rect x="228" y="4" width="1" height="9"/><rect x="229" y="5" width="2" height="1"/><rect x="226" y="11" width="2" height="1"/></g>
<rect x="242" y="0" width="1" height="19" fill="#8c8c8c" shape-rendering="crispEdges"/>
<rect x="243" y="0" width="25" height="19" fill="#f8f8f8" shape-rendering="crispEdges"/>
<g fill="#555" shape-rendering="crispEdges"><rect x="250" y="3" width="1" height="14"/><rect x="249" y="4" width="3" height="1"/><rect x="248" y="14" width="14" height="1"/><rect x="260" y="13" width="1" height="3"/></g>
<rect x="256" y="1" width="1" height="12" fill="#168016" shape-rendering="crispEdges"/><rect x="254" y="3" width="5" height="8" fill="url(#gg)" stroke="#168016" stroke-width=".6"/>
<g fill="#555" shape-rendering="crispEdges"><rect x="278" y="3" width="1" height="14"/><rect x="277" y="4" width="3" height="1"/><rect x="276" y="14" width="14" height="1"/><rect x="288" y="13" width="1" height="3"/></g>
<path d="M277 11.8C280 10 281.5 6 283.4 6s3 3.4 5.6 4.2" fill="none" stroke="#2a9a2a" stroke-width="1.1"/>
<rect x="299" y="0" width="1" height="19" fill="#8c8c8c" shape-rendering="crispEdges"/>
<path d="M317.6 10.6l5.4 5.2" stroke="#c8a020" stroke-width="2.6" stroke-linecap="round"/><circle cx="314" cy="7" r="5" fill="#d4e8fc" stroke="#2a6cd0" stroke-width="1.2"/>
<rect x="311" y="6.3" width="6" height="1.5" fill="#2a6cd0"/>
<rect x="313.25" y="4" width="1.5" height="6" fill="#2a6cd0"/>
<path d="M345.6 10.6l5.4 5.2" stroke="#c8a020" stroke-width="2.6" stroke-linecap="round"/><circle cx="342" cy="7" r="5" fill="#d4e8fc" stroke="#2a6cd0" stroke-width="1.2"/>
<rect x="339" y="6.3" width="6" height="1.5" fill="#2a6cd0"/>
<rect x="364" y="1" width="7.5" height="7.5" fill="#4a9a1a"/><rect x="365.2" y="4" width="5" height="1.2" fill="#fff"/><rect x="365.2" y="6" width="5" height="1.2" fill="#e8f0ff"/>
<rect x="372.5" y="1" width="7.5" height="7.5" fill="#1a4ad0"/><rect x="373.7" y="4" width="5" height="1.2" fill="#fff"/><rect x="373.7" y="6" width="5" height="1.2" fill="#e8f0ff"/>
<rect x="364" y="9.5" width="7.5" height="7.5" fill="#2a5ae0"/><rect x="365.2" y="12.5" width="5" height="1.2" fill="#fff"/><rect x="365.2" y="14.5" width="5" height="1.2" fill="#e8f0ff"/>
<rect x="372.5" y="9.5" width="7.5" height="7.5" fill="#4a9a1a"/><rect x="373.7" y="12.5" width="5" height="1.2" fill="#fff"/><rect x="373.7" y="14.5" width="5" height="1.2" fill="#e8f0ff"/>
<rect x="389" y="0" width="1" height="19" fill="#8c8c8c" shape-rendering="crispEdges"/>
<rect x="394" y="0" width="1" height="19" fill="#8c8c8c" shape-rendering="crispEdges"/>
<rect x="395" y="0" width="25" height="19" fill="#f8f8f8" shape-rendering="crispEdges"/>
<g fill="#555" shape-rendering="crispEdges"><rect x="402" y="3" width="1" height="14"/><rect x="401" y="4" width="3" height="1"/><rect x="400" y="14" width="14" height="1"/><rect x="412" y="13" width="1" height="3"/></g>
<path d="M407.5 5l3.5 3-3.5 3z" fill="#58c058" stroke="#1a901a" stroke-width=".8"/>
<rect x="422" y="0" width="1" height="19" fill="#8c8c8c" shape-rendering="crispEdges"/>
<rect x="423" y="0" width="25" height="19" fill="#f8f8f8" shape-rendering="crispEdges"/>
<g fill="#555" shape-rendering="crispEdges"><rect x="430" y="3" width="1" height="14"/><rect x="429" y="4" width="3" height="1"/><rect x="428" y="14" width="14" height="1"/><rect x="440" y="13" width="1" height="3"/></g>
<rect x="436" y="3" width="1" height="10" fill="#2060a8" shape-rendering="crispEdges"/><path d="M437.5 8.5h4M437.5 8.5l2-2M437.5 8.5l2 2" stroke="#d04010" stroke-width="1" fill="none"/>
<rect x="451" y="0" width="1" height="19" fill="#8c8c8c" shape-rendering="crispEdges"/>
<path d="M461.5 2.5h6l3 3v8h-9z" fill="#fafafa" stroke="#707070" stroke-width=".9"/><path d="M465 4.5v7h-1.5" fill="none" stroke="#888" stroke-width=".7"/><path d="M469.5 8.5h3v3h3.5v3h-3.5v3.5h-3v-3.5h-3.5v-3h3.5z" fill="#28c028" stroke="#108010" stroke-width=".7"/>
<path d="M483 8h5l-2.5 3z" fill="#000"/>
<circle cx="507" cy="9" r="7.5" fill="url(#gb)"/><circle cx="507" cy="9" r="5.2" fill="#f4f8ff"/><path d="M507 5.5v3.8h2.6" stroke="#333" stroke-width="1" fill="none"/>
<path d="M522 8h5l-2.5 3z" fill="#000"/>
<rect x="538.5" y="2.5" width="15" height="13" fill="#fff" stroke="#3a6ac8" stroke-width="1"/><rect x="539" y="3" width="14" height="2" fill="#5a8ae0"/><rect x="539" y="9" width="14" height="1" fill="#5a8ae0"/><path d="M540.5 8l3-1.5 3 .8 3-1.6 2.5.4" stroke="#a02010" stroke-width="1" fill="none"/><path d="M540.5 13.5l3-1 2.5.6 3-2 2.5 1.4" stroke="#109020" stroke-width="1" fill="none"/>
<path d="M561 8h5l-2.5 3z" fill="#000"/>
<rect x="572" y="0" width="1" height="20" fill="#8c8c8c" shape-rendering="crispEdges"/>
<rect x="576" y="1" width="3" height="1" fill="#b2b2b2" shape-rendering="crispEdges"/>
<rect x="576" y="3" width="3" height="1" fill="#b2b2b2" shape-rendering="crispEdges"/>
<rect x="576" y="5" width="3" height="1" fill="#b2b2b2" shape-rendering="crispEdges"/>
<rect x="576" y="7" width="3" height="1" fill="#b2b2b2" shape-rendering="crispEdges"/>
<rect x="576" y="9" width="3" height="1" fill="#b2b2b2" shape-rendering="crispEdges"/>
<rect x="576" y="11" width="3" height="1" fill="#b2b2b2" shape-rendering="crispEdges"/>
<rect x="576" y="13" width="3" height="1" fill="#b2b2b2" shape-rendering="crispEdges"/>
<rect x="576" y="15" width="3" height="1" fill="#b2b2b2" shape-rendering="crispEdges"/>
<rect x="576" y="17" width="3" height="1" fill="#b2b2b2" shape-rendering="crispEdges"/>
<rect x="582" y="0" width="1" height="19" fill="#8c8c8c" shape-rendering="crispEdges"/>
<rect x="583" y="0" width="25" height="19" fill="#f8f8f8" shape-rendering="crispEdges"/>
<path d="M590.3 2.2v11.6l2.8-2.6 2.3 5.2 1.9-.8-2.3-5.1 3.8-.2z" fill="#404040"/>
<g fill="#505050" shape-rendering="crispEdges"><rect x="622" y="2" width="1" height="15"/><rect x="615" y="9" width="15" height="1"/></g><rect x="621" y="8" width="3" height="3" fill="#f0f0f0"/><rect x="622" y="9" width="1" height="1" fill="#505050"/>
<rect x="639" y="0" width="1" height="19" fill="#8c8c8c" shape-rendering="crispEdges"/>
<rect x="656" y="3" width="1" height="13" fill="#505050" shape-rendering="crispEdges"/><rect x="679" y="9" width="12" height="1" fill="#505050" shape-rendering="crispEdges"/>
<path d="M706.5 16L719.2 4" stroke="#505050" stroke-width="1.1"/>
<g stroke="#505050" stroke-width="1" fill="none"><path d="M733 11.5L746 3M735 15L748 6.5"/><path d="M737 6.5l-2 8M740.5 4.5l-2 8M744 2.5l-2 8" stroke-width=".9"/></g><path d="M744.5 13.5h3.5M744.5 13.5v4h3.5M744.5 15.5h3" stroke="#333" stroke-width="1" fill="none"/>
<line x1="762" y1="2.5" x2="776" y2="2.5" stroke="#606060" stroke-width="1" stroke-dasharray="1 1" shape-rendering="crispEdges"/>
<line x1="762" y1="5.5" x2="776" y2="5.5" stroke="#606060" stroke-width="1" stroke-dasharray="1 1" shape-rendering="crispEdges"/>
<line x1="762" y1="9.5" x2="776" y2="9.5" stroke="#606060" stroke-width="1" stroke-dasharray="1 1" shape-rendering="crispEdges"/>
<line x1="762" y1="13.5" x2="776" y2="13.5" stroke="#606060" stroke-width="1" stroke-dasharray="1 1" shape-rendering="crispEdges"/>
<rect x="771" y="12" width="6" height="6" fill="#f0f0f0"/><path d="M772.5 17.5v-4h3.5M772.5 15.5h3" stroke="#333" stroke-width="1" fill="none"/>
<text x="792.3" y="13.8" font-size="12" font-weight="bold" fill="#606060" class="tb">A</text>
<rect x="819" y="3" width="12" height="13" fill="none" stroke="#606060" stroke-width="1" stroke-dasharray="1 1" shape-rendering="crispEdges"/><text x="821.3" y="13.8" font-size="11.5" font-weight="bold" fill="#606060" class="tb">T</text>
<path d="M845.5 6.5l3.5-4 3.5 4-3.5 1.5zM853 12l3.5-1.5 3.5 1.5-3.5 4z" fill="#454545"/><path d="M849 9.5l1.8 1.8 3.8-4.2" stroke="#505050" stroke-width="1.3" fill="none"/>
<path d="M867 8h5l-2.5 3z" fill="#000"/>
<rect x="878" y="0" width="1" height="20" fill="#8c8c8c" shape-rendering="crispEdges"/>
<rect x="882" y="1" width="3" height="1" fill="#b2b2b2" shape-rendering="crispEdges"/>
<rect x="882" y="3" width="3" height="1" fill="#b2b2b2" shape-rendering="crispEdges"/>
<rect x="882" y="5" width="3" height="1" fill="#b2b2b2" shape-rendering="crispEdges"/>
<rect x="882" y="7" width="3" height="1" fill="#b2b2b2" shape-rendering="crispEdges"/>
<rect x="882" y="9" width="3" height="1" fill="#b2b2b2" shape-rendering="crispEdges"/>
<rect x="882" y="11" width="3" height="1" fill="#b2b2b2" shape-rendering="crispEdges"/>
<rect x="882" y="13" width="3" height="1" fill="#b2b2b2" shape-rendering="crispEdges"/>
<rect x="882" y="15" width="3" height="1" fill="#b2b2b2" shape-rendering="crispEdges"/>
<rect x="882" y="17" width="3" height="1" fill="#b2b2b2" shape-rendering="crispEdges"/>
<rect x="1028" y="0" width="1" height="19" fill="#8c8c8c" shape-rendering="crispEdges"/>
<rect x="1029" y="0" width="25" height="19" fill="#f8f8f8" shape-rendering="crispEdges"/>
<text x="893.6" y="13" font-size="9.8" fill="#505050" class="tb">M1</text>
<text x="921.6" y="13" font-size="9.8" fill="#505050" class="tb">M5</text>
<text x="947.3" y="13" font-size="9.8" fill="#505050" class="tb">M15</text>
<text x="975.2" y="13" font-size="9.8" fill="#505050" class="tb">M30</text>
<text x="1006" y="13" font-size="9.8" fill="#505050" class="tb">H1</text>
<text x="1033.2" y="13" font-size="9.8" fill="#505050" class="tb">H4</text>
<text x="1062" y="13" font-size="9.8" fill="#505050" class="tb">D1</text>
<text x="1089.4" y="13" font-size="9.8" fill="#505050" class="tb">W1</text>
<text x="1116.6" y="13" font-size="9.8" fill="#505050" class="tb">MN</text>
<rect x="1139" y="0" width="1" height="19" fill="#8c8c8c" shape-rendering="crispEdges"/>
<path d="M1606.8 9.2l-5 4.8" stroke="#2a62d0" stroke-width="2.2" stroke-linecap="round"/><circle cx="1609.5" cy="6.3" r="3.7" fill="#f4f8ff" stroke="#2a62d0" stroke-width="1.3"/>
<path d="M1626 11a5.5 4 0 1 1 6.5 3.8l-2.5 2.4.3-2.4a5.5 4 0 0 1-4.3-3.8z" fill="#e6e8ee" stroke="#c4c6cc" stroke-width=".8"/><circle cx="1640.6" cy="6.8" r="8" fill="url(#gr)"/><text x="1637.3" y="11.2" font-size="12.5" font-weight="bold" fill="#fff" class="tb">1</text></svg>
</body></html>
